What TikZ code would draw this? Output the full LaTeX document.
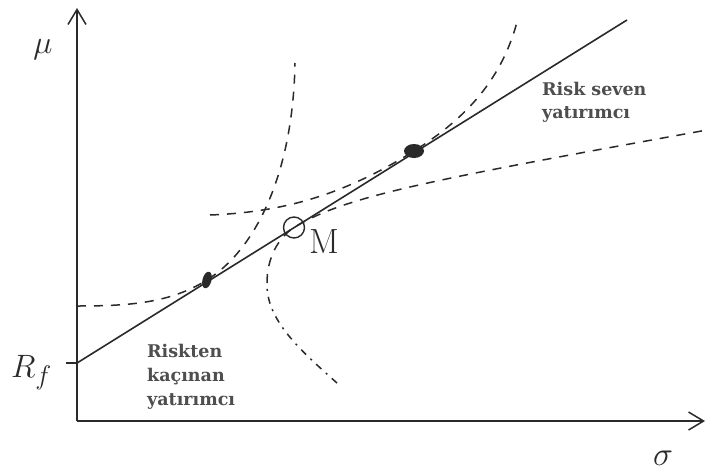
\documentclass[tikz,border=0pt]{standalone}
\usepackage{graphicx}
\usepackage{fontspec}
\newfontfamily\lblfont{DejaVu Serif}
\usetikzlibrary{arrows.meta}
\definecolor{ink}{HTML}{2A2A2A}
\definecolor{txt}{HTML}{4E4E4E}
\tikzset{
  axis/.style={line width=1.8pt, draw=ink, -{Straight Barb[length=15pt,width=18pt,line width=1.5pt]}},
  cml/.style={line width=1.6pt, draw=ink},
  curve/.style={line width=1.5pt, draw=ink, dash pattern=on 9pt off 8pt},
  dcurve/.style={line width=1.5pt, draw=ink, dash pattern=on 7pt off 6pt on 2pt off 6pt},
  lbl/.style={font=\lblfont\bfseries\fontsize{17.5}{20}\selectfont, text=txt, anchor=base west, inner sep=0pt},
  mlbl/.style={font=\fontsize{24.88}{30}\selectfont, text=ink, inner sep=0pt, anchor=base}
}
\begin{document}
\begin{tikzpicture}[x=1pt,y=-1pt]
\useasboundingbox (0,0) rectangle (707,472);
\fill[white] (0,0) rectangle (707,472);
% axes
\coordinate (O) at (77,421);
\coordinate (Ytop) at (77,8);
\coordinate (Xend) at (705,421);
\draw[axis] (O) -- (Ytop);
\draw[axis] (O) -- (Xend);
% Rf tick and capital market line
\coordinate (Rf) at (77,363);
\coordinate (Rft) at (66,363);
\coordinate (Lend) at (627,20);
\draw[cml] (Rft) -- (Rf);
\draw[cml] (Rf) -- (Lend);
% points
\coordinate (P1) at (207,280);
\coordinate (P2) at (414,151);
\coordinate (M) at (294,227.5);
% risk-averse indifference curve
\coordinate (A0) at (77,306);
\coordinate (A1) at (295,63);
\draw[curve] (A0) .. controls (130,306) and (170,303) .. (P1)
  .. controls (255,250) and (293,175) .. (A1);
% risk-loving indifference curve
\coordinate (B0) at (210,215);
\coordinate (B1) at (517,22);
\draw[curve] (B0) .. controls (290,212) and (350,191) .. (P2)
  .. controls (460,122) and (500,85) .. (B1);
% efficient frontier
\coordinate (C0) at (337,383);
\coordinate (C1) at (267,283);
\coordinate (C2) at (707,130);
\draw[dcurve] (C0) .. controls (300,350) and (266,320) .. (C1);
\draw[curve] (C1) .. controls (267,258) and (278,238) .. (M)
  .. controls (345,196) and (430,180) .. (C2);
% dots and market portfolio
\fill[ink, rotate around={-15:(P1)}] (P1) ellipse [x radius=4.5pt, y radius=8.5pt];
\fill[ink] (P2) ellipse [x radius=10pt, y radius=7pt];
\draw[line width=1.4pt, draw=ink] (M) circle [radius=10.5pt];
% labels
\node[mlbl] (mu) at (43,53) {\scalebox{1.3}{$\mu$}};
\node[mlbl, anchor=base west] (rf) at (11,377) {\scalebox{1.3}{$R_f$}};
\node[mlbl] (sigma) at (663,465) {\scalebox{1.35}{$\sigma$}};
\node[mlbl, anchor=base west, font=\fontsize{35}{40}\selectfont] (mlab) at (309,253) {M};
\node[lbl] (rs1) at (542,95) {Risk seven};
\node[lbl] (rs2) at (542,118) {yatırımcı};
\node[lbl] (ra1) at (147,357) {Riskten};
\node[lbl] (ra2) at (147,381) {kaçınan};
\node[lbl] (ra3) at (147,405) {yatırımcı};
\end{tikzpicture}
\end{document}
